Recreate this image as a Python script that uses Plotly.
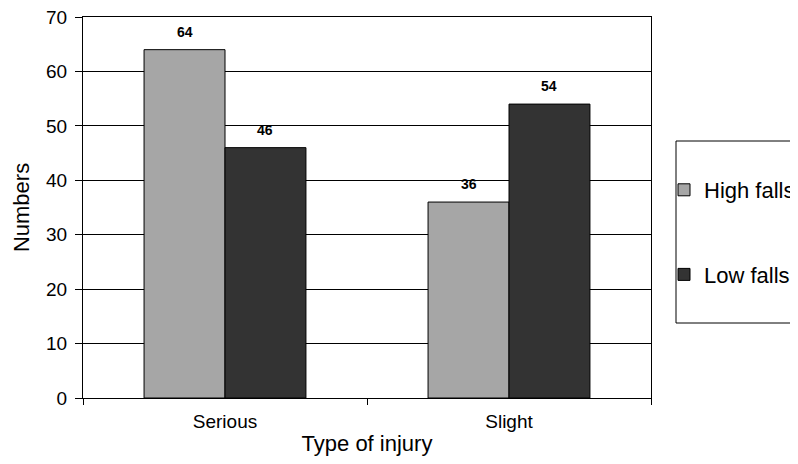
import plotly.graph_objects as go

categories = ["Serious", "Slight"]
high_falls = [64, 36]
low_falls = [46, 54]
series_names = ["High falls", "Low falls"]
y_ticks = [0, 10, 20, 30, 40, 50, 60, 70]

FONT = "Liberation Sans, Arial, sans-serif"
W, H = 798, 464
# page body adds an 8px offset; convert screen pixel -> figure pixel
OFF = 8
L, R, T, B = 83 - OFF, W - (651 - OFF), 17 - OFF, H - (398 - OFF)
pw = W - L - R
ph = H - T - B
BARGAP = 0.43

fig = go.Figure()
colors = ["#a6a6a6", "#333333"]
series = [high_falls, low_falls]
for name, vals, col in zip(series_names, series, colors):
    fig.add_trace(go.Bar(
        x=categories, y=vals, name=name, legendgroup=name,
        marker=dict(color=col, line=dict(color="black", width=1)),
        cliponaxis=False,
    ))

# value labels above bars
cat_w = pw / len(categories)
bar_w = cat_w * (1 - BARGAP) / len(series)
for si, vals in enumerate(series):
    shift = (si - (len(series) - 1) / 2) * bar_w
    for c, v in zip(categories, vals):
        fig.add_annotation(x=c, y=v, xref="x", yref="y", text=f"<b>{v}</b>",
                           showarrow=False, xshift=shift, yanchor="bottom", yshift=8,
                           font=dict(family=FONT, size=14, color="black"))

def fx(p):
    return (p - OFF - L) / pw

def fy(p):
    return (H - B - (p - OFF)) / ph

fig.add_shape(type="rect", xref="paper", yref="paper",
              x0=fx(676), x1=fx(840), y0=fy(323), y1=fy(141),
              line=dict(color="black", width=1), fillcolor="rgba(0,0,0,0)", layer="below")

fig.update_layout(
    width=W, height=H,
    margin=dict(l=L, r=R, t=T, b=B, autoexpand=False),
    paper_bgcolor="white", plot_bgcolor="white",
    font=dict(family=FONT, color="black", size=19),
    barmode="group", bargap=BARGAP, bargroupgap=0,
    showlegend=True,
    legend=dict(x=fx(664), xanchor="left", y=fy(169), yanchor="top",
                font=dict(family=FONT, size=22, color="black"), tracegroupgap=53,
                itemwidth=30, bgcolor="rgba(0,0,0,0)", borderwidth=0),
    xaxis=dict(
        title=dict(text="Type of injury", font=dict(size=22), standoff=4),
        tickfont=dict(size=19), ticklabelstandoff=6,
        tickson="boundaries", ticks="outside", ticklen=6, tickcolor="black",
        showline=True, linecolor="black", linewidth=1, mirror=True,
        showgrid=False,
    ),
    yaxis=dict(
        title=dict(text="Numbers", font=dict(size=22), standoff=10),
        range=[0, 70], tickvals=y_ticks, tickfont=dict(size=19), ticklabelstandoff=4,
        ticklabeloverflow="allow",
        ticks="outside", ticklen=7, tickcolor="black",
        showline=True, linecolor="black", linewidth=1, mirror=True,
        showgrid=True, gridcolor="black", gridwidth=1,
        zeroline=False,
    ),
)

fig.write_html("out.html")
